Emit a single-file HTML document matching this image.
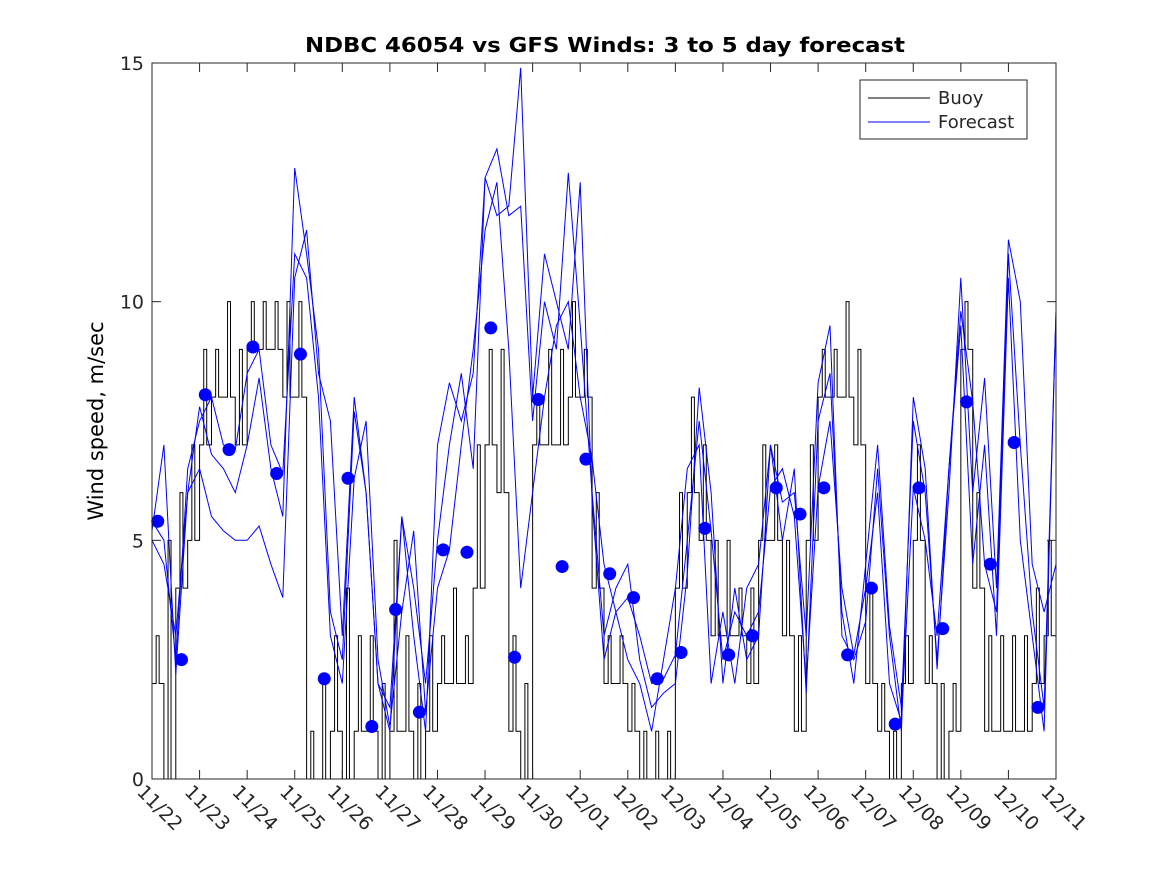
<!DOCTYPE html>
<html><head><meta charset="utf-8"><style>
body{margin:0;background:#fff}
svg{font-family:"DejaVu Sans","Liberation Sans",sans-serif}
</style></head><body>
<svg id="chart" width="1167" height="875" xmlns="http://www.w3.org/2000/svg">
<rect width="1167" height="875" fill="#fff"/>
<text x="605" y="52" text-anchor="middle" font-size="20" font-weight="bold" textLength="600" lengthAdjust="spacingAndGlyphs">NDBC 46054 vs GFS Winds: 3 to 5 day forecast</text>
<text transform="translate(103,421) rotate(-90)" text-anchor="middle" font-size="21">Wind speed, m/sec</text>
<g id="plot"></g>
</svg>
<script>
const xTickLabels=["11/22","11/23","11/24","11/25","11/26","11/27","11/28","11/29","11/30","12/01","12/02","12/03","12/04","12/05","12/06","12/07","12/08","12/09","12/10","12/11"];
const yTicks=[0,5,10,15];
const buoyLow=[2,0,4,5,7,8,8,7,9,9,9,8,8,0,0,1,0,1,1,0,1,1,0,1,2,2,2,4,7,6,1,0,7,7,7,8,8,4,2,2,1,0,0,0,4,6,5,3,3,3,2,5,5,3,1,5,8,8,8,7,2,1,0,2,5,2,0,1,9,4,1,1,1,1,2,3];
const buoyHigh=[3,5,6,7,9,9,10,9,10,10,10,10,10,1,2,3,4,3,3,2,5,3,2,3,3,4,3,7,9,9,3,2,8,9,9,10,9,6,3,3,2,1,1,1,6,8,7,5,5,4,4,7,7,5,3,7,9,9,10,9,4,2,1,3,7,3,2,2,10,6,3,3,3,3,4,5];
const fcA=[5.4,5.0,2.5,6.5,7.5,8.0,7.0,6.9,8.5,9.0,7.0,6.4,11.0,10.5,8.0,3.0,2.0,6.3,7.5,2.5,1.1,3.5,5.2,1.4,4.0,4.8,7.0,9.0,11.5,12.5,9.0,4.0,6.0,8.0,9.5,10.0,8.0,6.7,4.5,3.5,3.8,3.0,2.0,2.1,2.6,5.0,7.5,5.2,2.5,3.5,3.0,3.5,6.1,6.5,5.5,2.0,6.1,7.5,4.0,2.6,4.0,6.0,2.0,1.2,6.1,5.0,3.0,6.5,9.8,7.9,4.5,3.5,11.0,7.0,3.5,1.5,9.8];
const fcB=[5.0,4.5,3.0,6.0,6.5,5.5,5.2,5.0,5.0,5.3,4.5,3.8,10.5,11.5,8.5,7.5,3.0,8.0,6.0,2.0,1.5,5.5,4.0,2.0,5.0,7.0,8.5,6.5,12.6,13.2,11.8,12.0,7.5,10.0,9.0,12.7,9.5,6.0,3.0,4.0,4.5,2.5,1.5,1.8,2.0,4.3,8.2,6.0,2.0,4.0,2.5,3.0,7.0,5.0,6.5,1.8,7.5,8.5,3.5,2.0,4.5,7.0,3.2,1.5,7.5,6.0,2.5,6.0,10.5,6.0,8.4,4.0,11.3,10.0,4.5,3.5,4.5];
const fcC=[5.2,7.0,2.2,6.0,7.8,6.8,6.5,6.0,7.0,8.4,6.5,5.5,12.8,11.0,9.0,3.5,2.5,7.7,6.0,2.0,1.0,5.5,3.0,1.0,7.0,8.3,7.5,8.5,12.6,11.8,12.0,14.9,8.0,11.0,10.0,9.0,12.5,5.8,2.5,3.5,2.5,2.0,1.0,2.5,4.0,6.5,7.0,2.0,3.5,2.0,4.0,4.5,7.0,5.8,6.0,3.0,8.3,9.5,3.0,2.5,3.3,6.5,3.0,1.0,8.0,6.5,2.3,6.5,9.5,4.5,7.0,3.0,10.5,5.0,3.0,1.0,9.8];
const dotVals=[5.4,2.5,8.05,6.9,9.05,6.4,8.9,2.1,6.3,1.1,3.55,1.4,4.8,4.75,9.45,2.55,7.95,4.45,6.7,4.3,3.8,2.1,2.65,5.25,2.6,3.0,6.1,5.55,6.1,2.6,4.0,1.15,6.1,3.15,7.9,4.5,7.05,1.5];

const L=152,R=1056,T=63,B=779,NDAYS=19,YMAX=15;
const xs=d=>L+(R-L)*d/NDAYS;
const ys=v=>B-(B-T)*v/YMAX;
const NS="http://www.w3.org/2000/svg";
const g=document.getElementById('plot');
function mk(tag,attrs){const e=document.createElementNS(NS,tag);for(const k in attrs)e.setAttribute(k,attrs[k]);g.appendChild(e);return e;}

let d="";const pts=[];
for(let i=0;i<buoyLow.length;i++){
  const x0=xs(i*0.25),w=xs(0.25)-xs(0);
  const seq=[buoyLow[i],buoyHigh[i],buoyLow[i]];
  const fr=[0,0.35,0.6];
  for(let k=0;k<seq.length;k++){pts.push([x0+w*fr[k],seq[k]]);}
}
pts.forEach((p,i)=>{const y=ys(p[1]);if(i===0)d+="M"+p[0]+","+y;else{d+="V"+y;}const nx=i+1<pts.length?pts[i+1][0]:R;d+="H"+nx;});
const buoy=mk('path',{d:d,fill:'none',stroke:'#000','stroke-width':1});



[fcA,fcB,fcC].forEach((arr,j)=>{
  const p=arr.map((v,i)=>(i?"L":"M")+xs(i*0.25).toFixed(1)+","+ys(v).toFixed(1)).join("");
  const e=mk('path',{d:p,fill:'none',stroke:'#0000ff','stroke-width':1});
  
  
});
dotVals.forEach((v,i)=>{
  const c=mk('circle',{cx:xs(0.12+i*0.5),cy:ys(v),r:6.5,fill:'#0000ff'});
  
  
});

const box=mk('rect',{x:L,y:T,width:R-L,height:B-T,fill:'none',stroke:'#262626','stroke-width':1});


yTicks.forEach(v=>{
  const y=ys(v);
  mk('line',{x1:L,x2:L+9,y1:y,y2:y,stroke:'#262626'});
  mk('line',{x1:R,x2:R-9,y1:y,y2:y,stroke:'#262626'});
  const t=mk('text',{x:L-8,y:y+7,'text-anchor':'end','font-size':19,fill:'#262626'});
  t.textContent=v;
  
  
});
xTickLabels.forEach((s,i)=>{
  const x=xs(i);
  mk('line',{x1:x,x2:x,y1:B,y2:B-9,stroke:'#262626'});
  mk('line',{x1:x,x2:x,y1:T,y2:T+9,stroke:'#262626'});
  const t=mk('text',{transform:`translate(${x-16},${B+14}) rotate(45)`,'font-size':19,fill:'#262626'});
  t.textContent=s;
  
  
});

const lg=mk('rect',{x:860,y:80,width:167,height:59,fill:'#fff',stroke:'#262626'});


mk('line',{x1:868,x2:930,y1:98,y2:98,stroke:'#000'});
mk('line',{x1:868,x2:930,y1:122,y2:122,stroke:'#0000ff'});
const t1=mk('text',{x:938,y:104,'font-size':18,fill:'#262626'});t1.textContent='Buoy';


const t2=mk('text',{x:938,y:128,'font-size':18,fill:'#262626'});t2.textContent='Forecast';


</script>
</body></html>
